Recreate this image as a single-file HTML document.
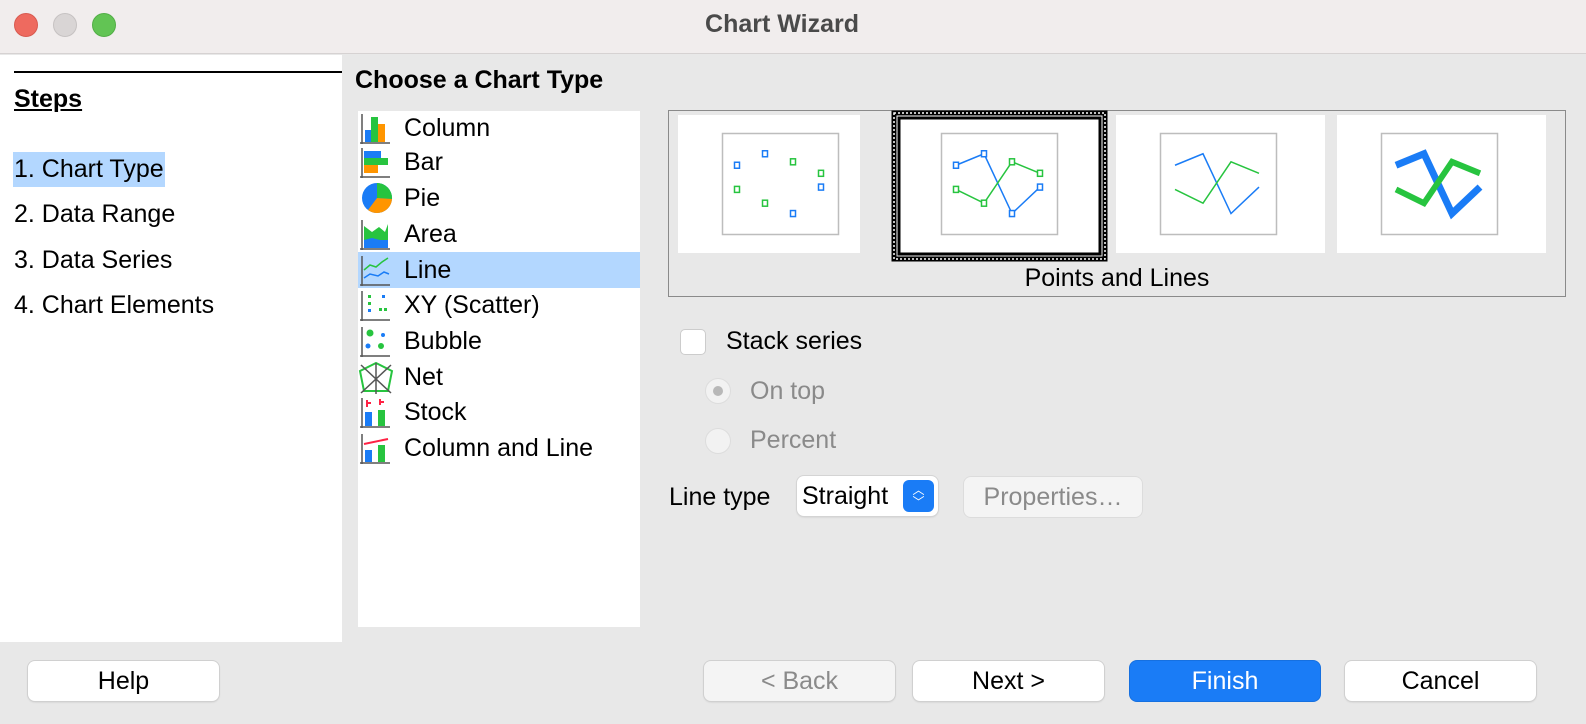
<!DOCTYPE html>
<html><head><meta charset="utf-8"><style>
*{box-sizing:border-box;margin:0;padding:0}
body{width:1586px;height:724px;overflow:hidden;background:#e8e8e8;font-family:"Liberation Sans",sans-serif;color:#000;position:relative}
.a{position:absolute}
.t{font-size:25px;line-height:30px;white-space:nowrap}
.btn{position:absolute;height:40px;background:#fff;border-radius:7px;box-shadow:0 0 0 1px #d0d0d0,0 1px 2px rgba(0,0,0,.15);font-size:25px;text-align:center;line-height:40px}
</style></head><body>
<div class="a" style="left:0;top:0;width:1586px;height:54px;background:#f1eded;border-bottom:1px solid #d6d2d2"></div>
<div class="a" style="left:14px;top:13px;width:24px;height:24px;border-radius:50%;background:#ee6a5f;border:1px solid #d85a50"></div>
<div class="a" style="left:53px;top:13px;width:24px;height:24px;border-radius:50%;background:#d9d5d5;border:1px solid #c6c2c2"></div>
<div class="a" style="left:92px;top:13px;width:24px;height:24px;border-radius:50%;background:#62c454;border:1px solid #52ae46"></div>
<div class="a t" style="left:0;width:1564px;top:9px;text-align:center;font-weight:bold;color:#4a4a4a">Chart Wizard</div>

<div class="a" style="left:0;top:55px;width:342px;height:587px;background:#fff"></div>
<div class="a" style="left:14px;top:71px;width:328px;height:2px;background:#000"></div>
<div class="a t" style="left:14px;top:84px;font-weight:bold;text-decoration:underline">Steps</div>
<div class="a" style="left:13px;top:152px;width:152px;height:35px;background:#b3d7ff"></div>
<div class="a t" style="left:14px;top:154px">1. Chart Type</div>
<div class="a t" style="left:14px;top:199px">2. Data Range</div>
<div class="a t" style="left:14px;top:245px">3. Data Series</div>
<div class="a t" style="left:14px;top:290px">4. Chart Elements</div>

<div class="a t" style="left:355px;top:65px;font-weight:bold">Choose a Chart Type</div>
<div class="a" style="left:358px;top:111px;width:282px;height:516px;background:#fff"></div>
<div class="a" style="left:358px;top:252px;width:282px;height:36px;background:#b3d7ff"></div>
<svg class="a" style="left:358px;top:111px" width="50" height="370">
<g transform="translate(0,1)"><path d="M4 2v30M2 31h30" stroke="#555" stroke-width="1.5"/><rect x="7" y="18" width="7" height="12" fill="#1a7cf6"/><rect x="13" y="5" width="7" height="25" fill="#27c43f"/><rect x="20" y="12" width="7" height="18" fill="#ff9500"/></g>
<g transform="translate(0,35)"><path d="M4 2v30M2 31h30" stroke="#555" stroke-width="1.5"/><rect x="6" y="5" width="17" height="7" fill="#1a7cf6"/><rect x="6" y="12" width="24" height="7" fill="#27c43f"/><rect x="6" y="19" width="14" height="8" fill="#ff9500"/></g>
<g transform="translate(0,71)"><circle cx="19" cy="16" r="15" fill="#1a7cf6"/><path d="M19 16V1A15 15 0 0 1 34 17Z" fill="#27c43f"/><path d="M19 16L34 17A15 15 0 0 1 10 28Z" fill="#ff9500"/></g>
<g transform="translate(0,107)"><path d="M4 2v30M2 31h30" stroke="#555" stroke-width="1.5"/><path d="M6 8l8 6 7-5 6 5 3-8v24H6Z" fill="#27c43f"/><path d="M6 22l8-2 8 2 8 0v8H6Z" fill="#1a7cf6"/></g>
<g transform="translate(0,143)"><path d="M4 2v30M2 31h30" stroke="#555" stroke-width="1.5"/><path d="M6 16l6-5 6 2 6-5 6-4" stroke="#27c43f" stroke-width="1.5" fill="none"/><path d="M6 24l6-4 8 2 6-4 5 2" stroke="#1a7cf6" stroke-width="1.5" fill="none"/></g>
<g transform="translate(0,178)"><path d="M4 2v30M2 31h30" stroke="#555" stroke-width="1.5"/><g fill="#27c43f"><rect x="10" y="6" width="3" height="3"/><rect x="10" y="13" width="3" height="3"/><rect x="21" y="19" width="3" height="3"/><rect x="26" y="19" width="3" height="3"/></g><g fill="#1a7cf6"><rect x="24" y="6" width="3" height="3"/><rect x="10" y="20" width="3" height="3"/></g></g>
<g transform="translate(0,214)"><path d="M4 2v30M2 31h30" stroke="#555" stroke-width="1.5"/><circle cx="12" cy="8" r="3.5" fill="#27c43f"/><circle cx="25" cy="10" r="2" fill="#1a7cf6"/><circle cx="10" cy="21" r="2.5" fill="#1a7cf6"/><circle cx="23" cy="21" r="3" fill="#27c43f"/></g>
<g transform="translate(0,250)"><path d="M2 10L18 2 34 10 30 30 6 30Z" stroke="#27c43f" stroke-width="2" fill="none"/><path d="M3 4L33 32M33 4L3 32M18 2V33" stroke="#555" stroke-width="1.5"/></g>
<g transform="translate(0,285)"><path d="M4 2v30M2 31h30" stroke="#555" stroke-width="1.5"/><rect x="7" y="16" width="7" height="14" fill="#1a7cf6"/><rect x="20" y="14" width="7" height="16" fill="#27c43f"/><path d="M9 4v7M22 3v6M9 7h4M22 6h4" stroke="#f24" stroke-width="2"/></g>
<g transform="translate(0,321)"><path d="M4 2v30M2 31h30" stroke="#555" stroke-width="1.5"/><rect x="7" y="18" width="7" height="12" fill="#1a7cf6"/><rect x="20" y="13" width="7" height="17" fill="#27c43f"/><path d="M6 12l24-5" stroke="#f24" stroke-width="2"/></g>
</svg>
<div class="a t" style="left:404px;top:113px">Column</div>
<div class="a t" style="left:404px;top:147px">Bar</div>
<div class="a t" style="left:404px;top:183px">Pie</div>
<div class="a t" style="left:404px;top:219px">Area</div>
<div class="a t" style="left:404px;top:255px">Line</div>
<div class="a t" style="left:404px;top:290px">XY (Scatter)</div>
<div class="a t" style="left:404px;top:326px">Bubble</div>
<div class="a t" style="left:404px;top:362px">Net</div>
<div class="a t" style="left:404px;top:397px">Stock</div>
<div class="a t" style="left:404px;top:433px">Column and Line</div>

<div class="a" style="left:668px;top:110px;width:898px;height:187px;border:1.5px solid #8a8a8a"></div>
<svg class="a" id="pv" style="left:0;top:0" width="1586" height="300"></svg>
<div class="a t" style="left:668px;width:898px;top:263px;text-align:center">Points and Lines</div>

<div class="a" style="left:680px;top:329px;width:26px;height:26px;background:#fff;border:1px solid #ccc;border-radius:5px"></div>
<div class="a t" style="left:726px;top:326px">Stack series</div>
<div class="a" style="left:705px;top:378px;width:26px;height:26px;border-radius:50%;background:#f2f2f2;border:1px solid #ddd"><div style="position:absolute;left:7px;top:7px;width:10px;height:10px;border-radius:50%;background:#b8b8b8"></div></div>
<div class="a t" style="left:750px;top:376px;color:#8a8a8a">On top</div>
<div class="a" style="left:705px;top:428px;width:26px;height:26px;border-radius:50%;background:#f2f2f2;border:1px solid #ddd"></div>
<div class="a t" style="left:750px;top:425px;color:#8a8a8a">Percent</div>
<div class="a t" style="left:669px;top:482px">Line type</div>
<div class="a" style="left:797px;top:476px;width:141px;height:40px;background:#fff;border-radius:7px;box-shadow:0 0 0 1px #d4d4d4,0 1px 2px rgba(0,0,0,.15)"><span class="t" style="position:absolute;left:5px;top:5px">Straight</span><div style="position:absolute;left:106px;top:4px;width:31px;height:32px;background:#1a7cf6;border-radius:6px;color:#fff;font-size:12px;line-height:12px;text-align:center;padding-top:4px">︿<br>﹀</div></div>
<div class="btn" style="left:964px;top:477px;width:178px;color:#8a8a8a;background:#f4f4f4;box-shadow:0 0 0 1px #dcdcdc">Properties…</div>

<div class="btn" style="left:28px;top:661px;width:191px">Help</div>
<div class="btn" style="left:704px;top:661px;width:191px;background:#f4f4f4;color:#8a8a8a">&lt; Back</div>
<div class="btn" style="left:913px;top:661px;width:191px">Next &gt;</div>
<div class="btn" style="left:1130px;top:661px;width:190px;background:#1a7cf6;color:#fff;box-shadow:0 0 0 1px #1670e0">Finish</div>
<div class="btn" style="left:1345px;top:661px;width:191px">Cancel</div>

<script>
const categories = ["A","B","C","D"];
const seriesBlue = [6.5, 7.5, 2.3, 4.6];
const seriesGreen = [4.4, 3.2, 6.8, 5.8];
const tiles = [
 {name:"points-only", x:678, w:182, frame:722, pts:true, lines:false},
 {name:"points-and-lines", x:896, w:207, frame:941, pts:true, lines:true},
 {name:"lines-only", x:1116, w:209, frame:1160, pts:false, lines:true},
 {name:"3d-lines", x:1337, w:209, frame:1381, pts:false, lines:true, thick:true}
];
const NS="http://www.w3.org/2000/svg";
const svg=document.getElementById('pv');
function yScale(v){return 240 - v*11.5;}
function mk(tag,attrs){const e=document.createElementNS(NS,tag);for(const k in attrs)e.setAttribute(k,attrs[k]);svg.appendChild(e);return e;}
tiles.forEach((t,ti)=>{
 const bg=mk('rect',{x:t.x,y:115,width:t.w,height:138,fill:'#fff'});
 
 
 const fr=mk('rect',{x:t.frame+0.5,y:133.5,width:116,height:101,fill:'#fff',stroke:'#bdbdbd','stroke-width':1.5});
 
 
 const xs=i=>t.frame+15+i*28;
 [[seriesBlue,'#1a7cf6'],[seriesGreen,'#27c43f']].forEach(([s,c])=>{
  if(t.lines){
   const d=s.map((v,i)=>(i?'L':'M')+xs(i)+' '+yScale(v)).join(' ');
   const p=mk('path',{d:d,stroke:c,'stroke-width':t.thick?(c==='#1a7cf6'?7:6):1.5,fill:'none','stroke-linejoin':'miter'});
   
   
  }
  if(t.pts){
   s.forEach((v,i)=>{
    const r=mk('rect',{x:xs(i)-2.5,y:yScale(v)-3,width:5,height:6,fill:'#fff',stroke:c,'stroke-width':1.5});
    
    
   });
  }
 });
 if(ti===1){
  const o=mk('rect',{x:894,y:113,width:211,height:146,fill:'none',stroke:'#000','stroke-width':5});
  
  
  const o2=mk('rect',{x:894,y:113,width:211,height:146,fill:'none',stroke:'#fff','stroke-width':1.5,'stroke-dasharray':'2 2'});
  
  
  const o3=mk('rect',{x:899,y:118,width:201,height:136,fill:'none',stroke:'#000','stroke-width':3});
  
  
 }
});
</script>
</body></html>
